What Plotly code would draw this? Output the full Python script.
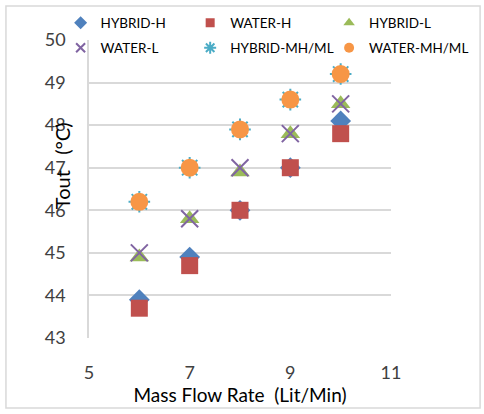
import plotly.graph_objects as go

x_vals = [6, 7, 8, 9, 10]
series_names = ["HYBRID-H", "WATER-H", "HYBRID-L", "WATER-L", "HYBRID-MH/ML", "WATER-MH/ML"]
hybrid_h = [43.9, 44.9, 46.0, 47.0, 48.1]
water_h = [43.7, 44.7, 46.0, 47.0, 47.8]
hybrid_l = [44.9, 45.8, 46.9, 47.8, 48.5]
water_l = [45.0, 45.8, 47.0, 47.8, 48.5]
hybrid_mh = [46.2, 47.0, 47.9, 48.6, 49.2]
water_mh = [46.2, 47.0, 47.9, 48.6, 49.2]

data = [hybrid_h, water_h, hybrid_l, water_l, hybrid_mh, water_mh]
symbols = ["diamond", "square", "triangle-up", "x-thin-open", "asterisk-open", "circle"]
colors = ["#4F81BD", "#C0504D", "#9BBB59", "#8064A2", "#4BACC6", "#F79646"]
plot_sizes = [16, 17, 17, 17, 18, 18]
legend_sizes = [10, 9, 10, 9, 10, 10]


def marker(i, size):
    m = dict(symbol=symbols[i], color=colors[i], size=size)
    if symbols[i].endswith("-open"):
        m["line"] = dict(width=2, color=colors[i])
    return m


fig = go.Figure()
for i, (name, ys) in enumerate(zip(series_names, data)):
    fig.add_trace(go.Scatter(x=x_vals, y=ys, mode="markers", name=name,
                             marker=marker(i, plot_sizes[i]), showlegend=False))

# legend entries (one small legend per slot: 3 columns x 2 rows)
legend_ids = ["legend", "legend2", "legend3", "legend4", "legend5", "legend6"]
for i, name in enumerate(series_names):
    fig.add_trace(go.Scatter(x=[None], y=[None], mode="markers", name=name,
                             marker=marker(i, legend_sizes[i]), showlegend=True,
                             legend=legend_ids[i]))

col_x = [-0.094, 0.335, 0.795]
row_y = [1.057, 0.973]
legend_layout = {}
for i, lid in enumerate(legend_ids):
    legend_layout[lid] = dict(
        x=col_x[i % 3], y=row_y[i // 3], xanchor="left", yanchor="middle",
        itemwidth=30, font=dict(size=13.5, color="#000000"),
        bgcolor="rgba(0,0,0,0)", borderwidth=0,
    )

fig.update_layout(
    width=484, height=414,
    margin=dict(l=89, r=93, t=40, b=76, autoexpand=False),
    paper_bgcolor="white", plot_bgcolor="white",
    font=dict(family="Lato, Open Sans, sans-serif", color="#000000"),
    showlegend=True,
    xaxis=dict(range=[5, 11], tick0=5, dtick=2, showgrid=False, zeroline=False,
               showline=False, ticks="", tickfont=dict(size=18, color="#404040"),
               ticklabelstandoff=22,
               title=dict(text="Mass Flow Rate  (Lit/Min)", font=dict(size=19, color="#000000"), standoff=0)),
    yaxis=dict(range=[43, 50], dtick=1, showgrid=True, gridcolor="#D9D9D9", gridwidth=1.5,
               zeroline=False, showline=True, linecolor="#D9D9D9", linewidth=1.5,
               ticks="", tickfont=dict(size=18, color="#404040"), ticklabelstandoff=18),
    shapes=[dict(type="rect", xref="paper", yref="paper", x0=-0.275, x1=1.295, y0=-0.235, y1=1.114,
                 line=dict(color="#D9D9D9", width=1.5), layer="below")],
    annotations=[dict(text="Tout   (°C)", xref="paper", yref="paper", x=-0.089, y=0.577,
                      xanchor="center", yanchor="middle",
                      textangle=-90, showarrow=False, font=dict(size=20, color="#000000"))],
    **legend_layout,
)

fig.write_html("out.html")
